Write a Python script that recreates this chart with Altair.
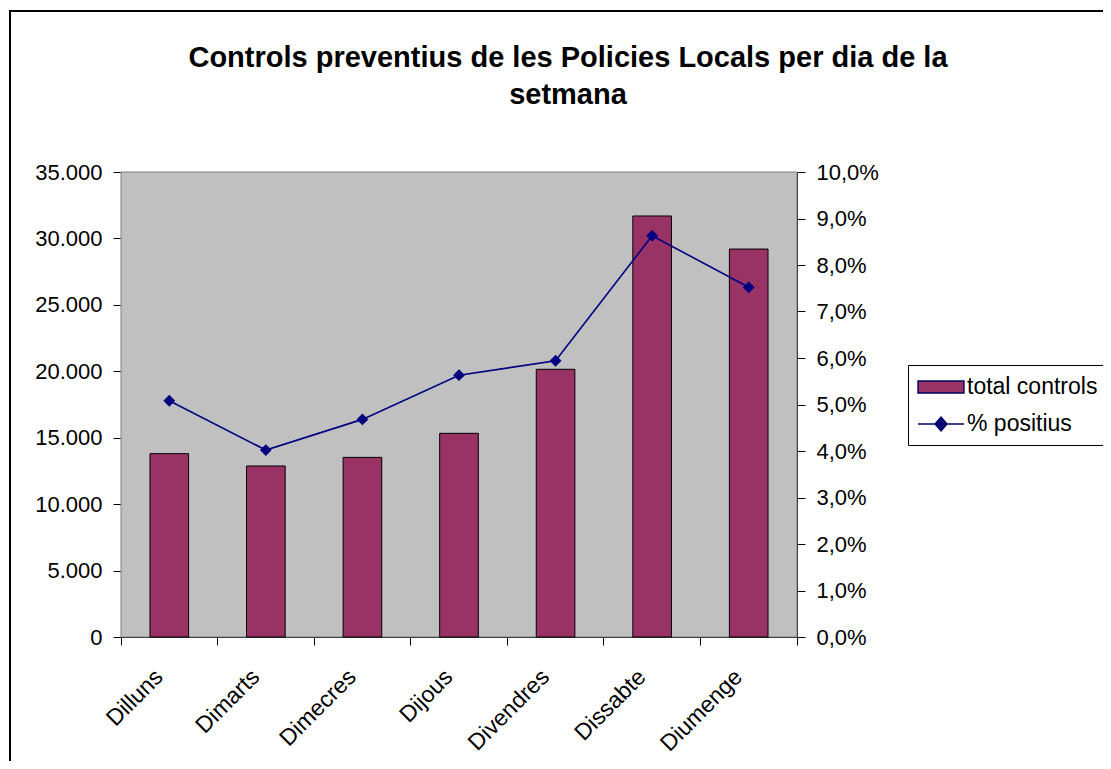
import altair as alt
import pandas as pd

dias = ["Dilluns", "Dimarts", "Dimecres", "Dijous", "Divendres", "Dissabte", "Diumenge"]
total_controls = [13800, 12870, 13520, 15330, 20150, 31690, 29200]
pct_positius = [0.0508, 0.0402, 0.0468, 0.0563, 0.0594, 0.0863, 0.0752]
series = ["total controls", "% positius"]
left_ticks = [0, 5000, 10000, 15000, 20000, 25000, 30000, 35000]
right_ticks = [0.0, 0.01, 0.02, 0.03, 0.04, 0.05, 0.06, 0.07, 0.08, 0.09, 0.10]

df = pd.DataFrame({"dia": dias, "total": total_controls, "pct": pct_positius})

FONT = "Liberation Sans"
BAR = "#993366"
LINE = "#000080"

x = alt.X(
    "dia:N", sort=dias, title=None,
    scale=alt.Scale(paddingInner=0, paddingOuter=0),
    axis=alt.Axis(
        labelAngle=-45, labelAlign="right", labelBaseline="middle",
        bandPosition=1, tickExtra=True, labelOffset=-10,
        labelPadding=28, tickSize=8, labelFontSize=23,
        labelFont=FONT, labelColor="black", domainColor="black",
        tickColor="black",
    ),
)

# plot-area background (gray panel with a gray border)
panel = alt.Chart(alt.Data(values=[{"a": 1}])).mark_rect(
    fill="#C0C0C0", stroke="#808080", strokeWidth=1
).encode(
    x=alt.value(0), x2=alt.value("width"), y=alt.value(0), y2=alt.value("height")
)

# outer chart frame
frame = alt.Chart(alt.Data(values=[{"a": 1}])).mark_rect(
    fill="transparent", stroke="black", strokeWidth=2
).encode(
    x=alt.value(-111), x2=alt.value(1000), y=alt.value(-161), y2=alt.value(700)
)

bars = alt.Chart(df).mark_bar(
    color=BAR, stroke="black", strokeWidth=1, width=alt.RelativeBandSize(0.4)
).encode(
    x=x,
    y=alt.Y(
        "total:Q", title=None,
        scale=alt.Scale(domain=[0, 35000], nice=False),
        axis=alt.Axis(
            values=left_ticks, grid=False, tickSize=8, labelPadding=11,
            labelExpr="replace(format(datum.value, ','), ',', '.')",
            labelFont=FONT, labelFontSize=22, labelColor="black",
            domainColor="black", tickColor="black",
        ),
    ),
)

line = alt.Chart(df).mark_line(
    color=LINE, strokeWidth=1.6,
    point=alt.OverlayMarkDef(shape="diamond", filled=True, size=140, color=LINE, opacity=1),
).encode(
    x=x,
    y=alt.Y(
        "pct:Q", title=None,
        scale=alt.Scale(domain=[0, 0.10], nice=False),
        axis=alt.Axis(
            orient="right", values=right_ticks, grid=False, tickSize=8,
            labelPadding=11,
            labelExpr="replace(format(datum.value, '.1%'), '.', ',')",
            labelFont=FONT, labelFontSize=22, labelColor="black",
            domainColor="black", tickColor="black",
        ),
    ),
)

sym_paths = [
    "M-1,-0.5H2.83V0.5H-1Z",
    "M-1,0H2.83 M0.42,0L0.92,-0.58L1.42,0L0.92,0.58Z",
]
leg = alt.Legend(
    title=None, orient="none", legendX=787, legendY=193,
    strokeColor="black", fillColor="white", padding=9,
    labelFont=FONT, labelFontSize=23, labelColor="black",
    symbolSize=576, symbolStrokeColor="#000060", symbolStrokeWidth=1.4,
    labelOffset=24, rowPadding=12,
)
legend_layer = alt.Chart(alt.Data(values=[{"s": s} for s in series])).mark_point(
    filled=True, opacity=1
).encode(
    color=alt.Color("s:N", scale=alt.Scale(domain=series, range=[BAR, LINE]), legend=leg),
    shape=alt.Shape("s:N", scale=alt.Scale(domain=series, range=sym_paths), legend=leg),
).transform_filter("false")

chart = alt.layer(panel, frame, bars, line, legend_layer).resolve_scale(
    y="independent"
).properties(
    width=676, height=465,
    autosize="none",
    padding={"left": 113, "top": 164, "right": 306, "bottom": 124},
    title=alt.Title(
        ["Controls preventius de les Policies Locals per dia de la", "setmana"],
        font=FONT, fontSize=29, fontWeight="bold", color="black",
        anchor="middle", frame="group", dx=109, offset=-100, lineHeight=37,
    ),
).configure_view(
    strokeWidth=0
)

chart.save("out.html", embed_options={"renderer": "svg", "actions": False})
